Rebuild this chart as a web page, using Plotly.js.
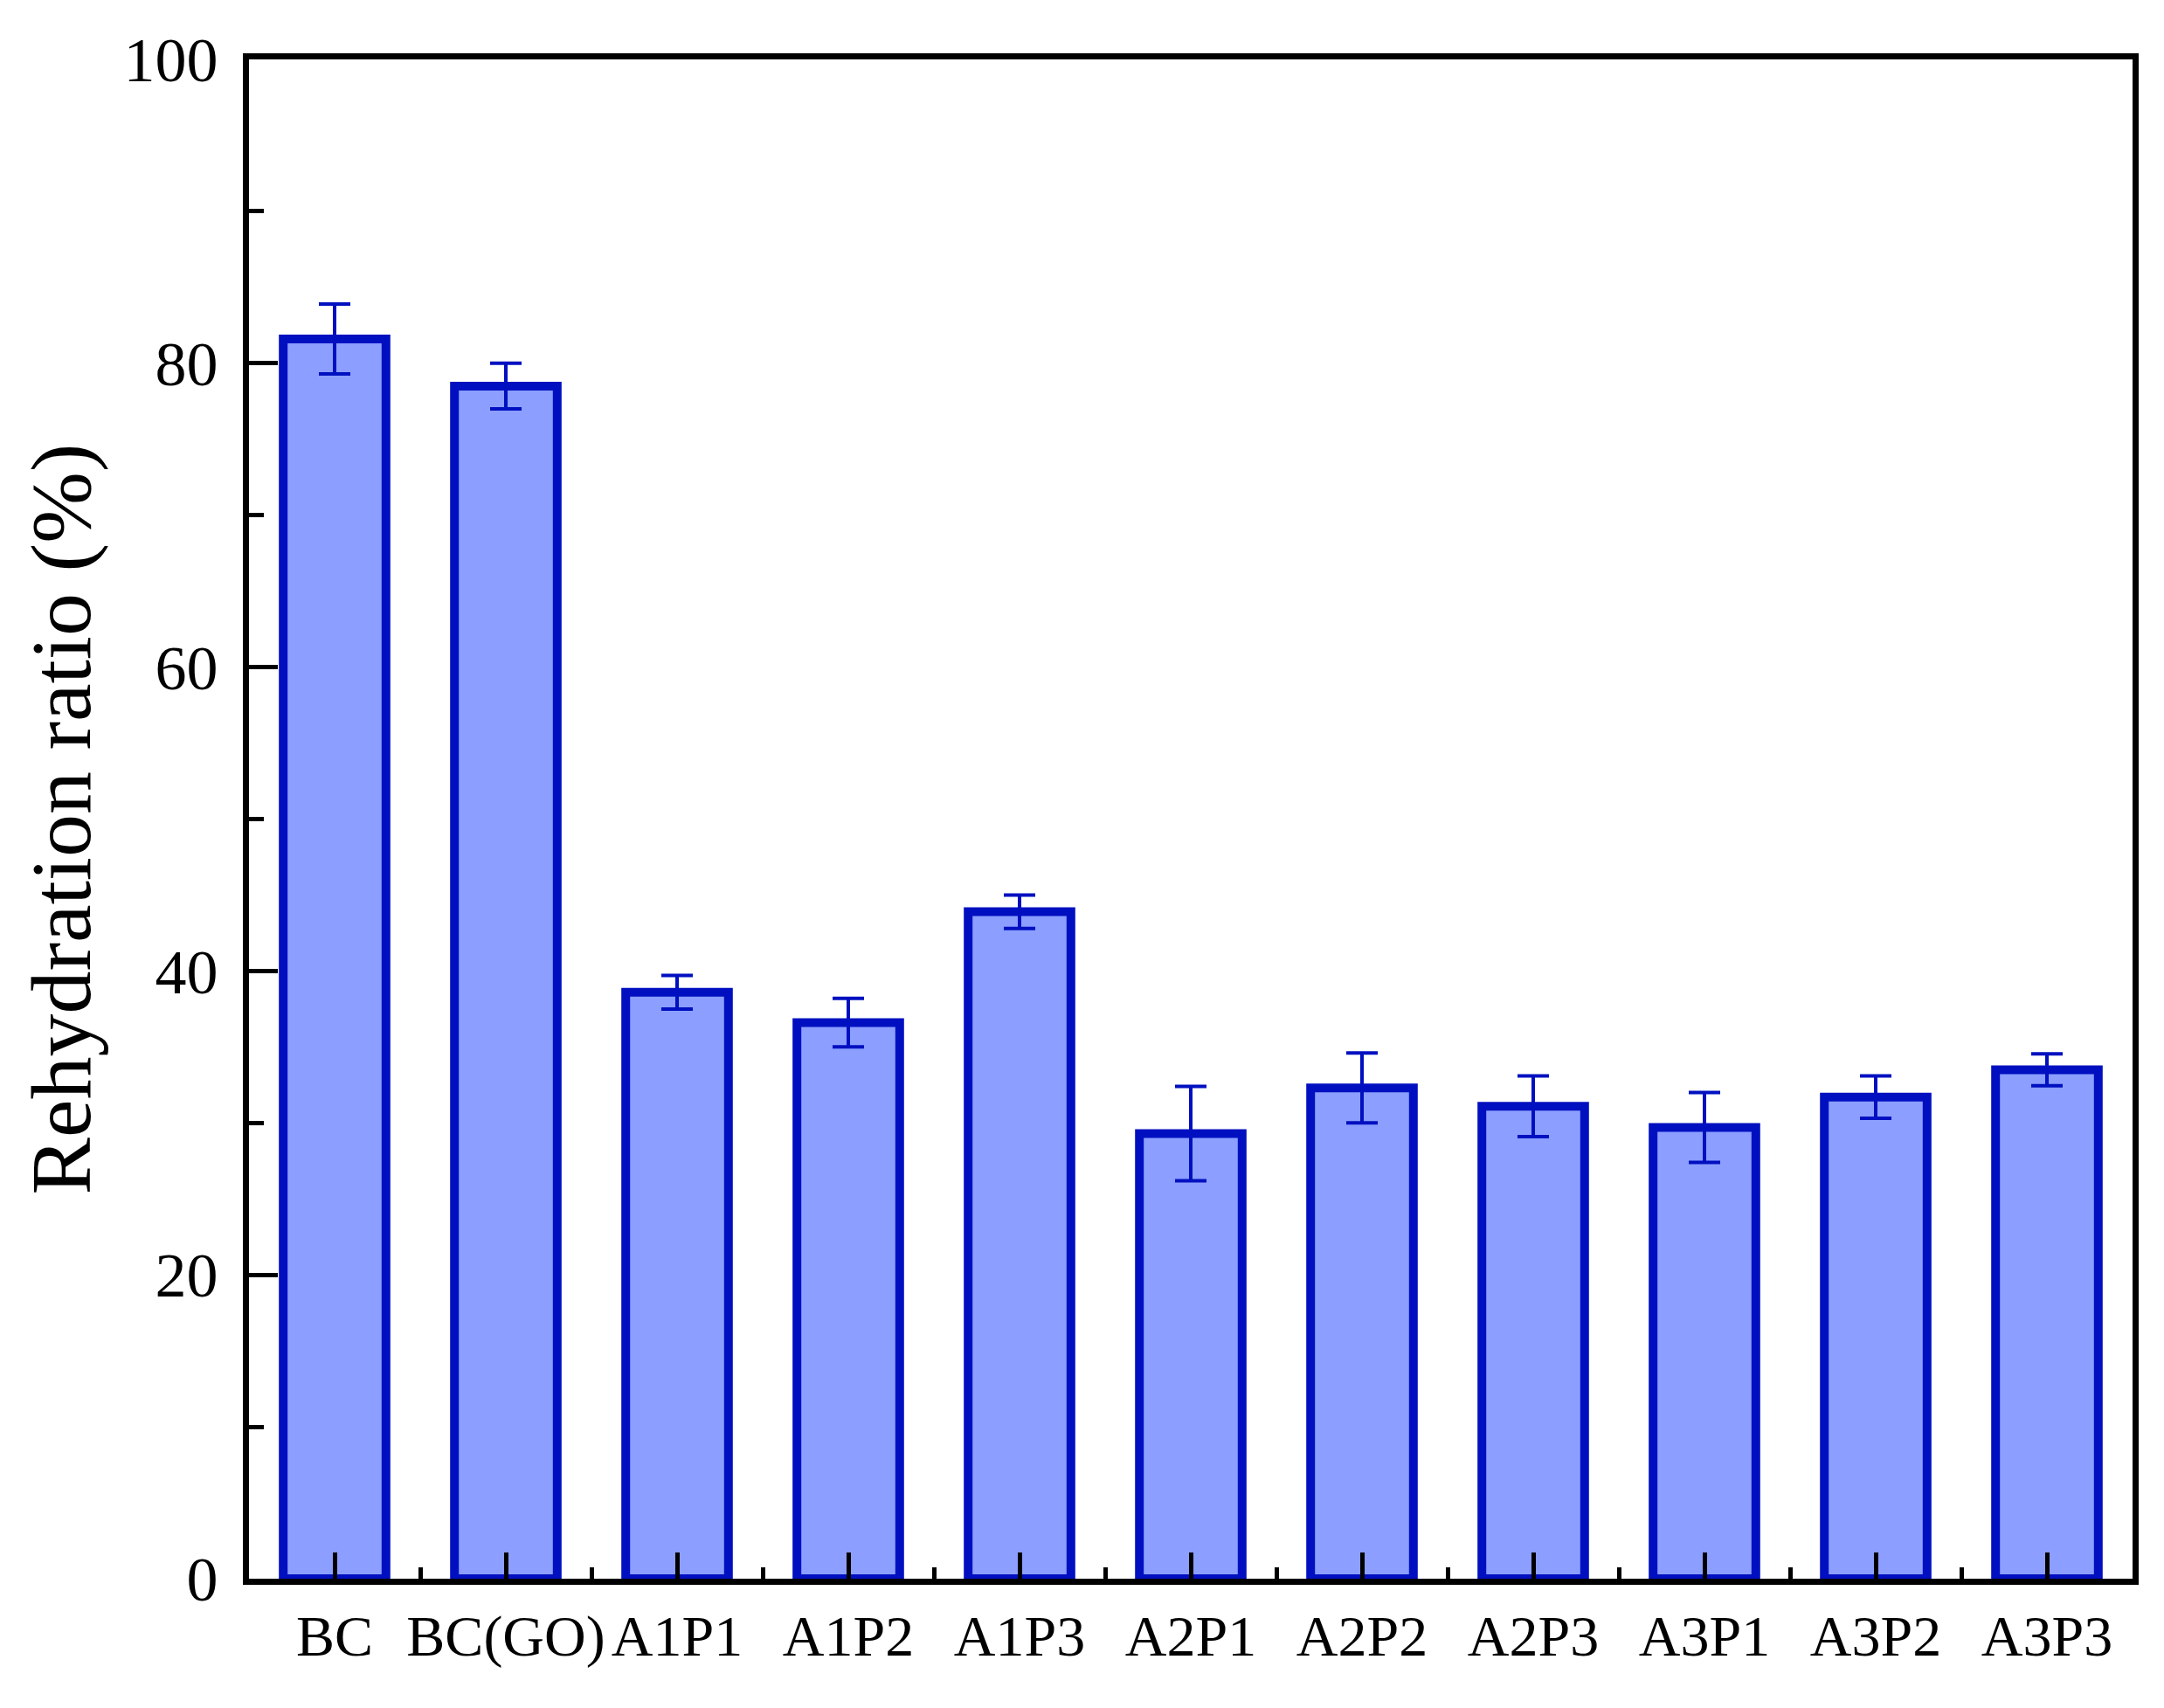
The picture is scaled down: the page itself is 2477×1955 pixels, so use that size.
<!DOCTYPE html>
<html>
<head>
<meta charset="utf-8">
<script src="https://cdn.plot.ly/plotly-3.0.1.min.js"></script>
<style>html,body{margin:0;padding:0;background:#fff;}#chart{width:2477px;height:1955px;}</style>
</head>
<body>
<div id="chart"></div>
<script>
const categories = ["BC", "BC(GO)", "A1P1", "A1P2", "A1P3", "A2P1", "A2P2", "A2P3", "A3P1", "A3P2", "A3P3"];
const ratio = [81.6, 78.5, 38.6, 36.6, 43.9, 29.3, 32.3, 31.1, 29.7, 31.7, 33.5];
const ratioErr = [2.3, 1.5, 1.1, 1.6, 1.1, 3.1, 2.3, 2.0, 2.3, 1.4, 1.05];
const yTickVals = [0, 20, 40, 60, 80, 100];

const fillColor = "rgb(140,158,255)";
const edgeColor = "rgb(0,16,192)";
const font = "Liberation Serif, Times New Roman, serif";

const traces = [
  {
    type: "bar",
    x: categories,
    y: ratio,
    width: 0.6,
    marker: {color: fillColor, line: {color: edgeColor, width: 10}},
    error_y: {type: "data", array: ratioErr, visible: true, color: edgeColor, thickness: 4, width: 18},
    hoverinfo: "x+y",
    showlegend: false
  },
  {
    type: "scatter",
    mode: "markers",
    x: categories,
    y: ratio,
    xaxis: "x2",
    marker: {opacity: 0},
    hoverinfo: "skip",
    showlegend: false
  }
];

const layout = {
  width: 2477,
  height: 1955,
  paper_bgcolor: "#ffffff",
  plot_bgcolor: "#ffffff",
  margin: {l: 285, r: 36, t: 68, b: 148, pad: 0},
  font: {family: font, color: "#000"},
  bargap: 0.4,
  xaxis: {
    type: "category",
    range: [-0.5, categories.length - 0.5],
    showline: true, linecolor: "#000", linewidth: 7, mirror: true,
    ticks: "inside", ticklen: 30, tickwidth: 5, tickcolor: "#000",
    tickfont: {family: font, size: 66, color: "#000"},
    ticklabelstandoff: 2,
    showgrid: false, zeroline: false, fixedrange: true
  },
  xaxis2: {
    type: "category",
    overlaying: "x",
    matches: "x",
    side: "bottom",
    anchor: "y",
    tickson: "boundaries",
    ticks: "inside", ticklen: 13, tickwidth: 5, tickcolor: "#000",
    showticklabels: false, showline: false, showgrid: false, zeroline: false
  },
  yaxis: {
    range: [0, 100],
    tickvals: yTickVals,
    showline: true, linecolor: "#000", linewidth: 7, mirror: true,
    ticks: "inside", ticklen: 33, tickwidth: 5, tickcolor: "#000",
    minor: {dtick: 10, ticks: "inside", ticklen: 17, tickwidth: 5, tickcolor: "#000", showgrid: false},
    tickfont: {family: font, size: 72, color: "#000"},
    ticklabelstandoff: 14,
    showgrid: false, zeroline: false, fixedrange: true,
    title: {text: "Rehydration ratio (%)", font: {family: font, size: 98, color: "#000"}, standoff: 8}
  }
};

Plotly.newPlot("chart", traces, layout, {displayModeBar: false, staticPlot: true});
</script>
</body>
</html>
